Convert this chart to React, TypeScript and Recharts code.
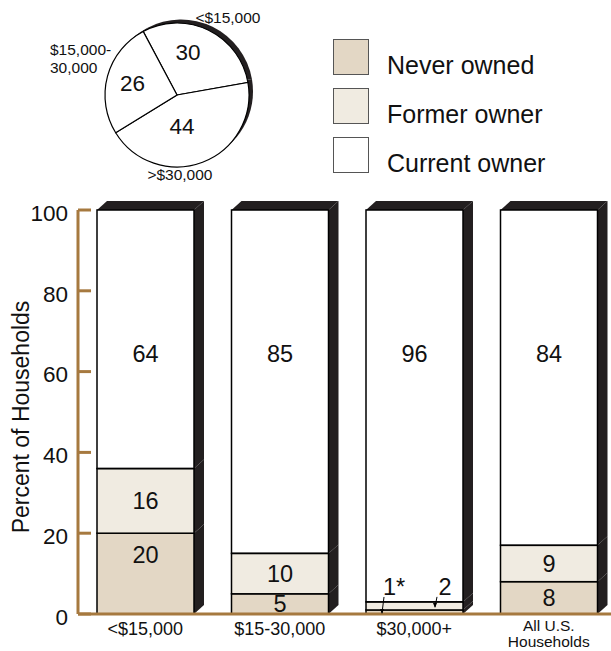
import { Bar, BarChart, LabelList, Legend, Pie, PieChart, Cell, XAxis, YAxis } from "recharts";

// stacked bars: share of households by ownership status, per income group
const categories = ["<$15,000", "$15-30,000", "$30,000+", "All U.S.|Households"];
const neverOwned = [20, 5, 1, 8];
const formerOwner = [16, 10, 2, 9];
const currentOwner = [64, 85, 97, 83];
const neverLabels = ["20", "5", "1*", "8"];
const formerLabels = ["16", "10", "2", "9"];
const currentLabels = ["64", "85", "96", "84"];
const yTicks = [0, 20, 40, 60, 80, 100];
const seriesNames = ["Never owned", "Former owner", "Current owner"];

// pie: income mix
const incomeGroups = ["<$15,000", ">$30,000", "$15,000-|30,000"];
const incomeShares = [30, 44, 26];

const FONT = '"Liberation Sans", Arial, Helvetica, sans-serif';
const NEVER = "#e3d7c5";
const FORMER = "#f0ebe1";
const CURRENT = "#ffffff";
const SHADOW = "#231f20";
const AXIS = "#a6793f";
const INK = "#111";
const DX = 10;
const DY = 9;

const segmentShape = (isTop: boolean) => (props: any) => {
  const { x, y, width: w, height: h, fill } = props;
  const rx = x + w;
  return (
    <g>
      <polygon
        points={`${rx},${y} ${rx + DX},${y - DY} ${rx + DX},${y + h - DY} ${rx},${y + h}`}
        fill={SHADOW}
      />
      {isTop && (
        <polygon
          points={`${x},${y} ${x + DX},${y - DY} ${rx + DX},${y - DY} ${rx},${y}`}
          fill={SHADOW}
        />
      )}
      <rect
        x={x}
        y={y}
        width={w}
        height={h}
        fill={isTop ? "none" : fill}
        stroke="#000"
        strokeWidth={1.5}
      />
    </g>
  );
};

const segmentLabel = (kind: "never" | "former" | "current") => (props: any) => {
  const vb = props.viewBox ?? props;
  const { x, y, width: w, height: h } = vb;
  const value = props.value;
  const txt = { fontSize: 23.5, fill: INK, fontFamily: FONT };
  if (kind === "current") {
    return (
      <text x={x + w / 2} y={y + 144} dy="0.35em" textAnchor="middle" {...txt}>
        {value}
      </text>
    );
  }
  if (h < 14) {
    // thin slice: number above with a small leader line
    const tx = kind === "never" ? x + 28 : x + 79;
    const ty = kind === "never" ? y - 23 : y - 15;
    const lx = kind === "never" ? x + 18 : x + 71;
    return (
      <g>
        <line x1={lx} y1={ty + 10} x2={lx - 2} y2={y + h / 2 + 1} stroke="#000" strokeWidth={1} />
        <polygon
          points={`${lx - 2},${y + h / 2 + 2} ${lx - 4},${y + h / 2 - 3} ${lx},${y + h / 2 - 3}`}
          fill="#000"
        />
        <text x={tx} y={ty} dy="0.35em" textAnchor="middle" {...txt}>
          {value}
        </text>
      </g>
    );
  }
  const cy = kind === "never" ? Math.min(y + h / 2, y + 22) : y + h / 2;
  return (
    <text x={x + w / 2} y={cy} dy="0.35em" textAnchor="middle" {...txt}>
      {value}
    </text>
  );
};

const CategoryTick = (props: any) => {
  const { x, y, payload } = props;
  const lines = String(payload.value).split("|");
  const multi = lines.length > 1;
  return (
    <text textAnchor="middle" fontSize={multi ? 15.5 : 18} fill={INK} fontFamily={FONT}>
      {lines.map((l, i) => (
        <tspan key={i} x={x} y={y + (multi ? 11.5 + i * 16.5 : 15)} dy="0.35em">
          {l}
        </tspan>
      ))}
    </text>
  );
};

const ValueTick = (props: any) => {
  const { x, y, payload } = props;
  const ax = x + 10;
  return (
    <g>
      <line x1={ax} x2={ax + 13} y1={y} y2={y} stroke={AXIS} strokeWidth={3} />
      <text x={x} y={y + 3} dy="0.35em" textAnchor="end" fontSize={22.5} fill={INK} fontFamily={FONT}>
        {payload.value}
      </text>
    </g>
  );
};

const renderYTitle = (props: any) => {
  const vb = props.viewBox;
  const cx = vb.x + 21;
  const cy = vb.y + vb.height / 2 + 5;
  return (
    <text
      x={cx}
      y={cy}
      dy="0.35em"
      textAnchor="middle"
      transform={`rotate(-90 ${cx} ${cy})`}
      fontSize={23}
      fill={INK}
      fontFamily={FONT}
    >
      Percent of Households
    </text>
  );
};

const renderLegend = (props: any) => {
  const payload = [...(props.payload ?? [])].sort(
    (a: any, b: any) => seriesNames.indexOf(a.value) - seriesNames.indexOf(b.value)
  );
  return (
    <div style={{ fontFamily: FONT }}>
      {payload.map((entry: any) => (
        <div key={entry.value} style={{ position: "relative", height: 49 }}>
          <div
            style={{
              position: "absolute",
              left: 0,
              top: 0,
              width: 34,
              height: 34,
              background: entry.color,
              border: "1.5px solid #555",
            }}
          />
          <div
            style={{
              position: "absolute",
              left: 54,
              top: 14,
              fontSize: 25,
              lineHeight: "25px",
              whiteSpace: "nowrap",
              color: INK,
            }}
          >
            {entry.value}
          </div>
        </div>
      ))}
    </div>
  );
};

// pie label placement tweaks (degrees / px from centre)
const insideNudge = [11.6, -11.9, 0];
const insideRadius = [44, 32, 46];
const outsideNudge = [-7.2, -18.7, -0.6];
const outsideRadius = [93, 80, 132];
const outsideAnchor = ["middle", "middle", "start"];
const RAD = Math.PI / 180;

const renderPieLabel = (props: any) => {
  const { cx, cy, midAngle, index, value, name } = props;
  const a1 = (midAngle + insideNudge[index]) * RAD;
  const a2 = (midAngle + outsideNudge[index]) * RAD;
  const ix = cx + insideRadius[index] * Math.cos(a1);
  const iy = cy - insideRadius[index] * Math.sin(a1);
  const ox = cx + outsideRadius[index] * Math.cos(a2);
  const oy = cy - outsideRadius[index] * Math.sin(a2);
  const lines = String(name).split("|");
  return (
    <g fontFamily={FONT} fill={INK}>
      <text x={ix} y={iy} dy="0.35em" textAnchor="middle" fontSize={22.5}>
        {value}
      </text>
      <text textAnchor={outsideAnchor[index] as any} fontSize={15.5}>
        {lines.map((l, i) => (
          <tspan key={i} x={ox} y={oy + (i - (lines.length - 1) / 2) * 18} dy="0.35em">
            {l}
          </tspan>
        ))}
      </text>
    </g>
  );
};

export default function App() {
  const rows = categories.map((name, i) => ({
    name,
    never: neverOwned[i],
    former: formerOwner[i],
    current: currentOwner[i],
    neverLabel: neverLabels[i],
    formerLabel: formerLabels[i],
    currentLabel: currentLabels[i],
  }));
  const pieData = incomeGroups.map((name, i) => ({ name, value: incomeShares[i] }));

  return (
    <div
      style={{
        position: "absolute",
        left: 0,
        top: 0,
        width: 611,
        height: 651,
        overflow: "hidden",
        background: "#fff",
        fontFamily: FONT,
      }}
    >
      <div style={{ position: "absolute", left: 0, top: 0 }}>
        <BarChart
          width={616}
          height={651}
          data={rows}
          margin={{ top: 210, right: 0, bottom: 0, left: 0 }}
          barSize={97}
        >
          <XAxis
            dataKey="name"
            height={37}
            interval={0}
            axisLine={{ stroke: AXIS, strokeWidth: 3 }}
            tickLine={false}
            tickSize={0}
            tickMargin={0}
            tick={<CategoryTick />}
          />
          <YAxis
            width={78}
            domain={[0, 100]}
            ticks={yTicks}
            axisLine={{ stroke: AXIS, strokeWidth: 3 }}
            tickLine={false}
            tickSize={0}
            tickMargin={10}
            tick={<ValueTick />}
            label={renderYTitle}
          />
          <Legend
            layout="vertical"
            align="center"
            verticalAlign="middle"
            content={renderLegend}
            wrapperStyle={{ position: "absolute", left: 333, top: 39, width: 270, height: 150 }}
          />
          <Bar
            dataKey="never"
            name={seriesNames[0]}
            stackId="own"
            fill={NEVER}
            shape={segmentShape(false)}
            isAnimationActive={false}
          >
            <LabelList dataKey="neverLabel" content={segmentLabel("never")} />
          </Bar>
          <Bar
            dataKey="former"
            name={seriesNames[1]}
            stackId="own"
            fill={FORMER}
            shape={segmentShape(false)}
            isAnimationActive={false}
          >
            <LabelList dataKey="formerLabel" content={segmentLabel("former")} />
          </Bar>
          <Bar
            dataKey="current"
            name={seriesNames[2]}
            stackId="own"
            fill={CURRENT}
            shape={segmentShape(true)}
            isAnimationActive={false}
          >
            <LabelList dataKey="currentLabel" content={segmentLabel("current")} />
          </Bar>
        </BarChart>
      </div>
      <div style={{ position: "absolute", left: 0, top: 0 }}>
        <PieChart width={300} height={200} margin={{ top: 0, right: 0, bottom: 0, left: 0 }}>
          <Pie
            data={pieData}
            dataKey="value"
            cx={181}
            cy={91.5}
            outerRadius={72}
            startAngle={118}
            endAngle={-242}
            stroke="none"
            isAnimationActive={false}
          >
            {pieData.map((d) => (
              <Cell key={d.name} fill={SHADOW} />
            ))}
          </Pie>
          <Pie
            data={pieData}
            dataKey="value"
            cx={177}
            cy={95}
            outerRadius={72}
            startAngle={118}
            endAngle={-242}
            stroke="#000"
            strokeWidth={1.2}
            label={renderPieLabel}
            labelLine={false}
            isAnimationActive={false}
          >
            {pieData.map((d) => (
              <Cell key={d.name} fill="#fff" />
            ))}
          </Pie>
        </PieChart>
      </div>
    </div>
  );
}
